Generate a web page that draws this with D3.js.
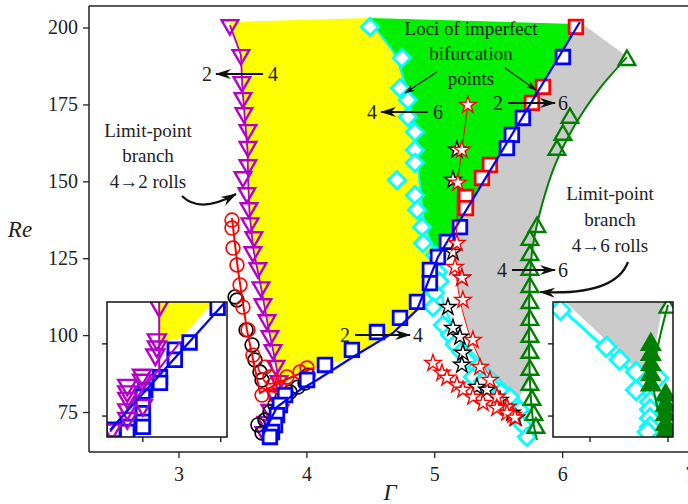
<!DOCTYPE html>
<html>
<head>
<meta charset="utf-8">
<script src="https://cdn.jsdelivr.net/npm/d3@7"></script>
<style>
body{margin:0;background:#fff}
svg text{font-family:"Liberation Serif","DejaVu Serif",serif}
</style>
</head>
<body>
<svg id="fig" width="688" height="504"></svg>
<script>
// tick labels
const xTicks = [3, 4, 5, 6, 7];
const yTicks = [75, 100, 125, 150, 175, 200];

// shaded regions (Gamma, Re)
const yellowRegion = [[3.395,201.8],[3.488,191.1],[3.50,180],[3.52,170],[3.54,160],[3.545,150],[3.555,140],[3.585,128],[3.645,115.6],[3.70,103],[3.75,93],[3.786,85.1],[3.817,84.4],[4.028,88.7],[4.364,92.9],[4.677,100.7],[4.865,108.2],[5.029,125.4],[4.927,135.8],[4.888,148.8],[4.849,163.4],[4.794,178.1],[4.693,191.1],[4.513,200.8],[4.497,203.1]];
const greenRegion = [[4.497,203.1],[4.513,200.8],[4.693,191.1],[4.794,178.1],[4.849,163.4],[4.888,148.8],[4.927,135.8],[5.029,125.4],[6.139,201.8],[6.163,201.1]];
const grayRegion = [[6.163,201.1],[6.491,191.1],[6.296,180.3],[6.100,168.3],[5.944,155.3],[5.842,142.3],[5.772,129.3],[5.748,117.9],[5.748,85.4],[5.647,78.9],[5.474,83.8],[5.341,93.5],[5.240,104.9],[5.177,117.9],[5.175,126],[5.177,135.8],[6.139,201.8]];

// limit-point branch 4->2 (inverted triangles)
const magTri = [[3.402,200.8],[3.488,191.1],[3.496,182.3],[3.504,177.1],[3.512,172.2],[3.543,166.7],[3.543,161.2],[3.543,155.3],[3.504,151.4],[3.535,146.2],[3.551,141.3],[3.559,136.4],[3.590,131.9],[3.582,127.0],[3.621,121.8],[3.645,115.6],[3.660,110.1],[3.692,104.9],[3.715,99.7],[3.739,95.2],[3.762,90.0],[3.786,85.1],[3.754,80.5],[3.715,75.7],[3.684,71.8],[3.668,68.5],[3.731,70.8],[3.793,75.7]];
const magLine = [[3.402,200.8],[3.488,191.1],[3.500,180],[3.52,170],[3.54,160],[3.545,150],[3.555,140],[3.585,128],[3.645,115.6],[3.70,103],[3.75,93],[3.786,85.1],[3.800,83],[3.653,65.9]];

// 2->4 branch (squares)
const blueSq = [[6.006,190.4],[5.693,170.6],[5.607,165.1],[5.568,160.8],[5.201,135.1],[5.099,130.3],[5.029,125.4],[4.966,121.2],[4.966,116.9],[4.865,110.8],[4.732,105.6],[4.552,101.0],[4.356,95.2],[4.145,90.3],[4.005,85.4],[3.833,80.5],[3.793,77.3],[3.770,74.0],[3.754,70.8],[3.731,68.5],[3.715,66.9]];
const blueLine = [[3.653,66.9],[3.770,76.6],[3.950,82.2],[4.083,85.4],[4.364,92.9],[4.677,100.7],[4.865,108.2],[5.029,125.4],[6.139,201.8]];
const redSq = [[6.108,200.2],[5.850,180.7],[5.764,175.5],[5.435,155.3],[5.373,151.1],[5.248,144.9],[5.248,141.3]];

// 4->6 branch (diamonds)
const cyanDia = [[4.497,200.2],[4.747,190.1],[4.732,180.3],[4.794,176.4],[4.794,170.9],[4.849,166.0],[4.849,160.2],[4.849,156.0],[4.708,150.4],[4.849,145.5],[4.865,140.7],[4.904,135.1],[4.912,129.9],[5.005,126.0],[5.029,120.5],[5.040,117.5],[5.005,113.7],[4.990,109.1],[5.068,103.3],[5.123,100.0],[5.160,97.0],[5.210,94.5],[5.256,91.9],[5.302,86.4],[5.380,85.0],[5.459,83.1],[5.520,81.5],[5.592,79.9],[5.670,75.7],[5.693,70.8],[5.725,66.9]];
const cyanLine = [[4.513,200.8],[4.693,191.1],[4.794,178.1],[4.849,163.4],[4.888,148.8],[4.927,135.8],[5.005,126.0],[5.044,114.7],[5.123,104.9],[5.279,95.2],[5.514,85.4],[5.686,77.3],[5.709,65.9]];

// limit-point branch 4->6 (triangles)
const greenTri = [[6.507,189.4],[6.061,170.6],[6.006,165.1],[5.959,160.2],[5.803,135.1],[5.748,130.9],[5.748,126.0],[5.748,121.2],[5.748,115.6],[5.748,110.4],[5.748,104.9],[5.748,99.4],[5.748,94.2],[5.748,88.7],[5.748,83.8],[5.764,78.9],[5.779,74.0],[5.795,69.8]];
const greenLine = [[6.507,190.4],[6.296,180.3],[6.100,168.3],[5.944,155.3],[5.842,142.3],[5.772,129.3],[5.748,117.9],[5.748,85.4],[5.772,72.4],[5.803,65.9]];

// loci of imperfect bifurcation points (stars, circles)
const redStarA = [[5.263,174.8],[5.216,160.2],[5.185,149.5],[5.177,129.9],[5.162,122.1],[5.216,118.6],[5.224,111.4],[5.302,98.4],[5.357,89.6],[5.435,85.4],[5.490,79.9],[5.568,76.6],[5.615,74.0]];
const redStarLine = [[5.263,174.8],[5.216,160.2],[5.185,149.5],[5.177,135.8],[5.170,130.9],[5.177,117.9],[5.240,104.9],[5.341,93.5],[5.474,83.8],[5.607,75.0]];
const blackStar = [[5.177,160.2],[5.146,150.4],[5.146,127.0],[5.216,118.6],[5.107,109.1],[5.146,102.3],[5.201,99.4],[5.224,94.2],[5.216,90.3],[5.334,83.1],[5.412,82.2],[5.514,78.9],[5.568,76.6],[5.607,74.7],[5.639,73.1]];
const redStarB = [[4.990,90.9],[5.060,87.7],[5.099,86.1],[5.177,83.8],[5.224,82.2],[5.302,79.9],[5.381,77.9],[5.490,76.3],[5.568,74.7],[5.631,73.1]];
const redCirc = [[3.418,137.4],[3.418,134.8],[3.426,128.3],[3.457,122.8],[3.481,116.3],[3.504,109.1],[3.543,101.7],[3.582,93.5],[3.676,89.6],[3.715,86.4],[3.739,83.8],[3.653,80.5],[3.754,80.5],[3.848,86.4],[3.950,88.0],[4.005,89.3],[3.793,82.8]];
const redCircLine = [[3.418,138.1],[3.465,121.2],[3.535,101.7],[3.637,81.2],[3.833,85.4],[4.051,89.3]];
const blackCirc = [[3.442,112.4],[3.457,111.4],[3.528,101.7],[3.575,96.8],[3.598,91.9],[3.637,88.0],[3.653,85.4],[3.621,70.8],[3.653,68.2],[3.676,72.4],[3.715,75.0],[3.754,77.3],[3.809,79.6],[3.872,81.5],[3.934,83.1],[3.989,84.4],[4.012,87.0]];

// left inset (cusp of the 2<->4 region)
const inLxTicks = [3.7, 3.8], inLyTicks = [70, 80];
const inLYellow = [[3.719,85.85],[3.790,85.85],[3.750,80.85],[3.721,80.16]];
const inLBlueLine = [[3.658,68.07],[3.805,85.71]];
const inLBlueSq = [[3.796,85.0],[3.760,80.2],[3.741,79.2],[3.741,77.8],[3.722,75.4],[3.722,74.6],[3.703,73.6],[3.700,72.7],[3.700,71.5],[3.700,70.4],[3.700,69.2],[3.700,68.5],[3.681,68.5],[3.680,67.8],[3.662,68.1]];
const inLMagTri = [[3.721,85.2],[3.718,80.6],[3.718,79.6],[3.716,78.5],[3.699,75.7],[3.699,75.0],[3.680,74.3],[3.680,73.4],[3.680,72.5],[3.680,70.9],[3.680,69.7],[3.700,71.5],[3.660,68.1]];
const inLMagV = [[3.721,85.85],[3.721,75.7]];
const inLMagD = [[3.658,67.8],[3.748,80.3]];

// right inset (cusp of the 4<->6 region)
const inRxTicks = [5.6, 5.7], inRyTicks = [70, 80];
const inRGray = [[5.568,85.85],[5.694,85.85],[5.677,75.7],[5.664,76.1]];
const inRCyanLine = [[5.555,85.7],[5.653,76.1],[5.674,72.2],[5.683,67.8]];
const inRCyanDia = [[5.562,84.7],[5.621,79.6],[5.638,77.8],[5.659,76.1],[5.659,73.6],[5.677,72.0],[5.677,70.9],[5.677,69.7],[5.677,68.5],[5.674,67.8],[5.687,75.3]];
const inRGreenLine = [[5.700,85.4],[5.681,74.7],[5.697,67.4]];
const inRGreenFill = [[5.678,79.9],[5.678,78.5],[5.678,77.1],[5.678,75.7],[5.678,74.3],[5.697,72.9],[5.697,71.5],[5.697,70.2],[5.697,68.8],[5.697,67.8]];
const inRGreenOpen = [[5.700,85.0]];

const svg = d3.select("#fig");
const x = d3.scaleLinear().domain([2.3, 7.0]).range([89, 690]);
const y = d3.scaleLinear().domain([62, 207]).range([452, 6]);

const defs = svg.append("defs");
defs.append("clipPath").attr("id", "plotclip").append("rect")
  .attr("x", 89).attr("y", 6).attr("width", 620).attr("height", 446);
defs.append("marker").attr("id", "ah").attr("viewBox", "-16 -6 18 12")
  .attr("markerWidth", 18).attr("markerHeight", 12).attr("refX", 0).attr("refY", 0)
  .attr("markerUnits", "userSpaceOnUse").attr("orient", "auto")
  .append("path").attr("d", "M1,0 L-15,-5 L-10,0 L-15,5 Z").attr("fill", "#111");
defs.append("marker").attr("id", "ahs").attr("viewBox", "-12 -5 14 10")
  .attr("markerWidth", 12).attr("markerHeight", 9).attr("refX", 0).attr("refY", 0)
  .attr("markerUnits", "userSpaceOnUse").attr("orient", "auto")
  .append("path").attr("d", "M1,0 L-11,-4 L-8,0 L-11,4 Z").attr("fill", "#111");

function poly(g, data, sx, sy, fill) {
  g.append("path")
    .attr("d", d3.line().x(d => sx(d[0])).y(d => sy(d[1]))(data) + "Z")
    .attr("fill", fill).attr("stroke", "none");
}
function line(g, data, sx, sy, color, w, smooth) {
  const ln = d3.line().x(d => sx(d[0])).y(d => sy(d[1]));
  if (smooth) ln.curve(d3.curveCatmullRom);
  g.append("path").attr("d", ln(data))
    .attr("fill", "none").attr("stroke", color).attr("stroke-width", w);
}
function marks(g, data, sx, sy, o) {
  g.selectAll(null).data(data).enter().append("path")
    .attr("d", d3.symbol(o.type, o.size)())
    .attr("transform", d => "translate(" + sx(d[0]) + "," + sy(d[1]) + ") rotate(" + (o.rot || 0) + ")")
    .attr("fill", o.fill).attr("stroke", o.stroke).attr("stroke-width", o.sw);
}

const MAG = "#b400c8", BLUE = "#0000ff", RED = "#ff0000", CYAN = "#00ffff", DKGREEN = "#008000";
const sq = {type: d3.symbolSquare, size: 185, fill: "#fff", sw: 2.8};
const dia = {type: d3.symbolSquare, size: 150, rot: 45, fill: "#fff", stroke: CYAN, sw: 2.8};
const triDown = {type: d3.symbolTriangle, size: 120, rot: 180, fill: "none", stroke: MAG, sw: 2.4};
const triUp = {type: d3.symbolTriangle, size: 120, fill: "none", stroke: DKGREEN, sw: 2.4};
const star = {type: d3.symbolStar, size: 85, fill: "#fff", sw: 1.4};
const circ = {type: d3.symbolCircle, size: 150, fill: "none", sw: 1.6};

// main plot
const plot = svg.append("g").attr("clip-path", "url(#plotclip)");
poly(plot, yellowRegion, x, y, "#ffff00");
poly(plot, greenRegion, x, y, "#00f000");
poly(plot, grayRegion, x, y, "#cbcbcb");

line(plot, magLine, x, y, MAG, 1.8, false);
marks(plot, magTri, x, y, triDown);
line(plot, cyanLine, x, y, CYAN, 2, true);
marks(plot, cyanDia, x, y, dia);
line(plot, greenLine, x, y, DKGREEN, 2, true);
marks(plot, greenTri, x, y, triUp);
marks(plot, blackCirc, x, y, Object.assign({}, circ, {stroke: "#000"}));
marks(plot, redCirc, x, y, Object.assign({}, circ, {stroke: RED}));
line(plot, redCircLine, x, y, RED, 2, false);
marks(plot, redSq, x, y, Object.assign({}, sq, {stroke: RED}));
marks(plot, blueSq, x, y, Object.assign({}, sq, {stroke: BLUE}));
line(plot, blueLine, x, y, BLUE, 2.2, false);
marks(plot, blackStar, x, y, Object.assign({}, star, {stroke: "#000"}));
line(plot, redStarLine, x, y, RED, 1, true);
line(plot, redStarB, x, y, RED, 1, true);
marks(plot, redStarA, x, y, Object.assign({}, star, {stroke: RED}));
marks(plot, redStarB, x, y, Object.assign({}, star, {stroke: RED}));

// axes frame
svg.append("line").attr("x1", 89).attr("x2", 688).attr("y1", 6).attr("y2", 6).attr("stroke", "#222").attr("stroke-width", 1.5);
svg.append("line").attr("x1", 89).attr("x2", 89).attr("y1", 6).attr("y2", 452).attr("stroke", "#222").attr("stroke-width", 1.5);
svg.append("line").attr("x1", 89).attr("x2", 688).attr("y1", 452).attr("y2", 452).attr("stroke", "#222").attr("stroke-width", 1.5);

const yAxis = svg.append("g").attr("transform", "translate(89,0)")
  .call(d3.axisLeft(y).tickValues(yTicks).tickFormat(d3.format("d")).tickSize(6).tickPadding(5));
const xAxis = svg.append("g").attr("transform", "translate(0,452)")
  .call(d3.axisBottom(x).tickValues(xTicks).tickFormat(d3.format("d")).tickSize(6).tickPadding(9));
[xAxis, yAxis].forEach(a => {
  a.attr("font-family", null);
  a.select(".domain").remove();
  a.selectAll("line").attr("stroke", "#222").attr("stroke-width", 1.3);
  a.selectAll("text").attr("font-size", 20).attr("fill", "#222");
});

// insets
function inset(x0, y0, w, h, xd, yd, xt, yt, draw) {
  const sx = d3.scaleLinear().domain(xd).range([x0, x0 + w]);
  const sy = d3.scaleLinear().domain(yd).range([y0 + h, y0]);
  const id = "clip" + x0;
  defs.append("clipPath").attr("id", id).append("rect")
    .attr("x", x0).attr("y", y0).attr("width", w).attr("height", h);
  svg.append("rect").attr("x", x0).attr("y", y0).attr("width", w).attr("height", h).attr("fill", "#fff");
  const g = svg.append("g").attr("clip-path", "url(#" + id + ")");
  draw(g, sx, sy);
  svg.append("rect").attr("x", x0).attr("y", y0).attr("width", w).attr("height", h)
    .attr("fill", "none").attr("stroke", "#111").attr("stroke-width", 1.5);
  xt.forEach(v => svg.append("line").attr("x1", sx(v)).attr("x2", sx(v))
    .attr("y1", y0 + h).attr("y2", y0 + h + 5).attr("stroke", "#111").attr("stroke-width", 1.3));
  yt.forEach(v => svg.append("line").attr("x1", x0 - 5).attr("x2", x0)
    .attr("y1", sy(v)).attr("y2", sy(v)).attr("stroke", "#111").attr("stroke-width", 1.3));
}

inset(107, 302, 120, 135, [3.654, 3.808], [67.1, 85.8], inLxTicks, inLyTicks, (g, sx, sy) => {
  poly(g, inLYellow, sx, sy, "#ffff00");
  marks(g, inLBlueSq, sx, sy, Object.assign({}, sq, {stroke: BLUE}));
  line(g, inLMagV, sx, sy, MAG, 2, false);
  line(g, inLMagD, sx, sy, MAG, 2, false);
  marks(g, inLMagTri, sx, sy, Object.assign({}, triDown, {size: 140}));
  line(g, inLBlueLine, sx, sy, BLUE, 2.2, false);
});

inset(553, 302, 120, 135, [5.5526, 5.7064], [67.1, 85.8], inRxTicks, inRyTicks, (g, sx, sy) => {
  poly(g, inRGray, sx, sy, "#cbcbcb");
  line(g, inRCyanLine, sx, sy, CYAN, 3, false);
  marks(g, inRCyanDia, sx, sy, Object.assign({}, dia, {size: 190}));
  line(g, inRGreenLine, sx, sy, DKGREEN, 2, true);
  marks(g, inRGreenFill, sx, sy, Object.assign({}, triUp, {fill: DKGREEN, size: 140}));
  marks(g, inRGreenOpen, sx, sy, triUp);
});

// annotations
function txt(s, tx, ty, size, anchor, style) {
  svg.append("text").attr("x", tx).attr("y", ty).text(s)
    .attr("font-size", size).attr("fill", "#222")
    .attr("text-anchor", anchor || "middle").attr("font-style", style || "normal");
}
function arrow(x1, y1, x2, y2) {
  svg.append("line").attr("x1", x1).attr("y1", y1).attr("x2", x2).attr("y2", y2)
    .attr("stroke", "#111").attr("stroke-width", 2.2).attr("marker-end", "url(#ah)");
}
function pair(a, b, xa, xb, yy, left) {
  txt(a, xa, yy + 7, 20);
  txt(b, xb, yy + 7, 20);
  if (left) arrow(xb - 10, yy, xa + 9, yy); else arrow(xa + 10, yy, xb - 8, yy);
}

pair("2", "4", 207, 273, 74, true);
pair("4", "6", 372, 438, 112, true);
pair("2", "6", 498, 563, 103, false);
pair("4", "6", 502, 563, 270, false);
pair("2", "4", 345, 418, 335, false);

txt("Limit-point", 148, 137, 19);
txt("branch", 148, 162, 19);
txt("4\u21922 rolls", 148, 188, 19);
svg.append("path").attr("d", "M182,196 Q200,214 236,194").attr("fill", "none")
  .attr("stroke", "#111").attr("stroke-width", 2.2).attr("marker-end", "url(#ah)");

txt("Loci of imperfect", 471, 35, 19);
txt("bifurcation", 471, 60, 19);
txt("points", 471, 85, 19);
svg.append("line").attr("x1", 437).attr("y1", 72).attr("x2", 405).attr("y2", 93)
  .attr("stroke", "#111").attr("stroke-width", 1.2).attr("marker-end", "url(#ahs)");
svg.append("line").attr("x1", 505).attr("y1", 68).attr("x2", 536).attr("y2", 90)
  .attr("stroke", "#111").attr("stroke-width", 1.2).attr("marker-end", "url(#ahs)");

txt("Limit-point", 610, 200, 19);
txt("branch", 610, 226, 19);
txt("4\u21926 rolls", 610, 252, 19);
svg.append("path").attr("d", "M628,262 Q615,296 540,292").attr("fill", "none")
  .attr("stroke", "#111").attr("stroke-width", 2.2).attr("marker-end", "url(#ah)");

txt("Re", 20, 237, 23, "middle", "italic");
txt("\u0393", 390, 500, 23, "middle", "italic");
</script>
</body>
</html>
